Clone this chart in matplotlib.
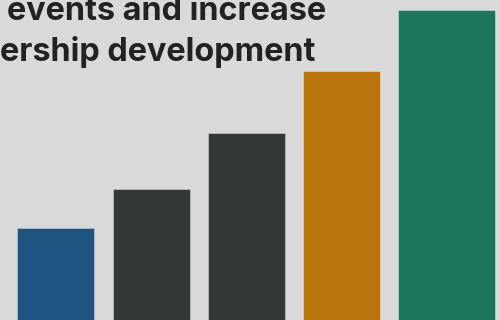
import matplotlib
matplotlib.use("Agg")
import matplotlib.pyplot as plt

# Data (baseline lies below the visible crop)
categories = ["1", "2", "3", "4", "5"]
values = [92, 131, 187, 249, 310]
colors = ["#1F5480", "#333738", "#333738", "#B9740C", "#1C745C"]
widths = [0.81, 0.81, 0.81, 0.81, 1.02]
title_lines = ["events and increase", "ership development"]

BG = "#D9D9D9"
fig = plt.figure(figsize=(5, 3.2), dpi=100, facecolor=BG)
ax = fig.add_axes([0, 0, 1, 1])
ax.set_facecolor(BG)

xs = list(range(len(categories)))
ax.bar(xs, values, width=widths, align="edge", color=colors,
       edgecolor=(1, 1, 1, 0.35), linewidth=0.7)
ax.set_xlim(-0.182, 5.068)
ax.set_ylim(0, 320)
ax.axis("off")

font = ["Inter", "DejaVu Sans"]
t1 = fig.text(7 / 500, 1 - 20 / 320, title_lines[0], fontsize=20, fontweight="bold",
              color="#222222", family=font, va="baseline", ha="left")
t2 = fig.text(315 / 500, 1 - 61 / 320, title_lines[1], fontsize=20, fontweight="bold",
              color="#222222", family=font, va="baseline", ha="right")

# fit title width to the reference span (7px -> 327px)
fig.canvas.draw()
r = fig.canvas.get_renderer()
w = t1.get_window_extent(r).width
fs = 20 * 320 / w
t1.set_fontsize(fs)
t2.set_fontsize(fs)

fig.savefig("out.png", dpi=100, facecolor=BG)
